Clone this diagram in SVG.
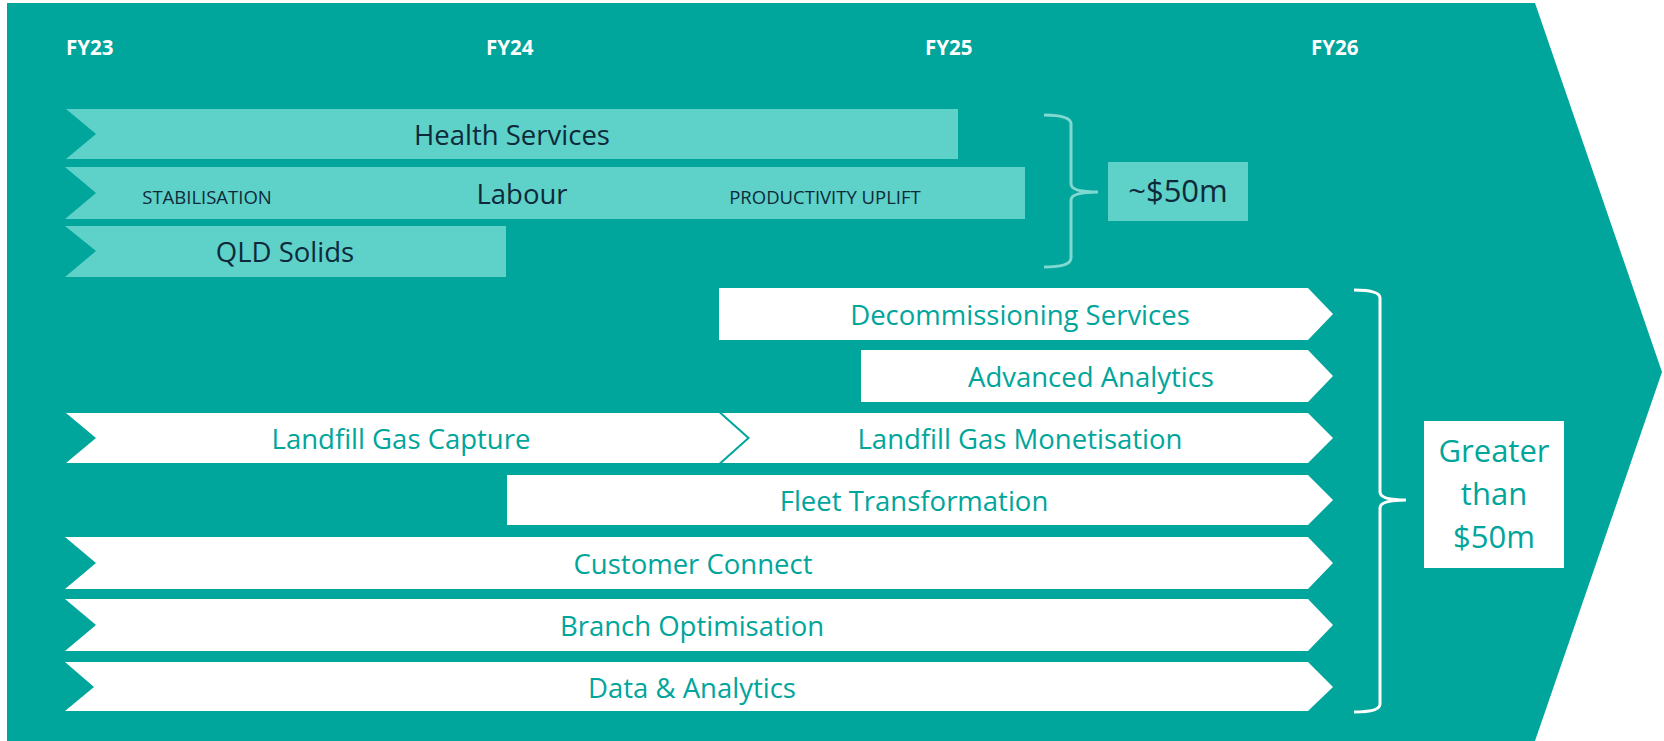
<svg xmlns="http://www.w3.org/2000/svg" width="1664" height="741" viewBox="0 0 1664 741">
<style>
.fy{font-family:"Open Sans","Liberation Sans",sans-serif;font-weight:bold;font-size:20.5px;fill:#ffffff}
.lb{fill:#5ED1C8}
.wb{fill:#ffffff}
.dk{font-family:"Open Sans","Liberation Sans",sans-serif;font-size:27.5px;fill:#0E2A3A;text-anchor:middle}
.sm{font-family:"Open Sans","Liberation Sans",sans-serif;font-size:18.5px;fill:#0E2A3A;text-anchor:middle}
.tl{font-family:"Open Sans","Liberation Sans",sans-serif;font-size:27.5px;fill:#00A59B;text-anchor:middle}
.big{font-size:31px}
.br{fill:none;stroke-width:3}
</style>
<rect width="1664" height="741" fill="#ffffff"/>
<polygon id="background" points="7,3 1535,3 1662,372 1535,741 7,741" fill="#00A59B"/>
<g id="years">
<text class="fy" x="66" y="55">FY23</text>
<text class="fy" x="486" y="55">FY24</text>
<text class="fy" x="925" y="55">FY25</text>
<text class="fy" x="1311" y="55">FY26</text>
</g>
<g id="health-services">
<polygon class="lb" points="66,109 958,109 958,159 66,159 96,134"/>
<text class="dk" x="512" y="145">Health Services</text>
</g>
<g id="labour">
<polygon class="lb" points="65,167 1025,167 1025,219 65,219 96,193"/>
<text class="sm" x="207" y="204">STABILISATION</text>
<text class="dk" x="522" y="204">Labour</text>
<text class="sm" x="825" y="204">PRODUCTIVITY UPLIFT</text>
</g>
<g id="qld-solids">
<polygon class="lb" points="65,226 506,226 506,277 65,277 96,251"/>
<text class="dk" x="285" y="262">QLD Solids</text>
</g>
<g id="approx-50m">
<rect class="lb" x="1108" y="162" width="140" height="59"/>
<text class="dk big" x="1178" y="202">~$50m</text>
</g>
<g id="decommissioning-services">
<polygon class="wb" points="719,288 1308,288 1333,314 1308,340 719,340"/>
<text class="tl" x="1020" y="325">Decommissioning Services</text>
</g>
<g id="advanced-analytics">
<polygon class="wb" points="861,350 1308,350 1333,376 1308,402 861,402"/>
<text class="tl" x="1091" y="387">Advanced Analytics</text>
</g>
<g id="landfill-gas-capture">
<polygon class="wb" points="66,413 719,413 747,438 719,463 66,463 96,438"/>
<text class="tl" x="401" y="449">Landfill Gas Capture</text>
</g>
<g id="landfill-gas-monetisation">
<polygon class="wb" points="722,413 1308,413 1333,438 1308,463 722,463 750,438"/>
<text class="tl" x="1020" y="449">Landfill Gas Monetisation</text>
</g>
<g id="fleet-transformation">
<polygon class="wb" points="507,475 1308,475 1333,500 1308,525 507,525"/>
<text class="tl" x="914" y="511">Fleet Transformation</text>
</g>
<g id="customer-connect">
<polygon class="wb" points="65,537 1308,537 1333,563 1308,589 65,589 96,563"/>
<text class="tl" x="693" y="574">Customer Connect</text>
</g>
<g id="branch-optimisation">
<polygon class="wb" points="65,599 1308,599 1333,625 1308,651 65,651 96,625"/>
<text class="tl" x="692" y="636">Branch Optimisation</text>
</g>
<g id="data-analytics">
<polygon class="wb" points="65,662 1308,662 1333,687 1308,711 65,711 94,687"/>
<text class="tl" x="692" y="698">Data &amp; Analytics</text>
</g>
<g id="greater-than-50m">
<rect class="wb" x="1424" y="421" width="140" height="147"/>
<text class="tl big" x="1494" y="462">Greater</text>
<text class="tl big" x="1494" y="505">than</text>
<text class="tl big" x="1494" y="548">$50m</text>
</g>
<g id="connectors">
<path class="br" stroke="#7FD9D1" d="M1044,115 Q1071,115 1071,124 L1071,184 Q1071,192 1098,192 Q1071,192 1071,200 L1071,258 Q1071,267 1044,267"/>
<path class="br" stroke="#ffffff" d="M1354,290 Q1380,290 1380,298 L1380,492 Q1380,500 1406,500 Q1380,500 1380,508 L1380,704 Q1380,712 1354,712"/>
</g>
</svg>
